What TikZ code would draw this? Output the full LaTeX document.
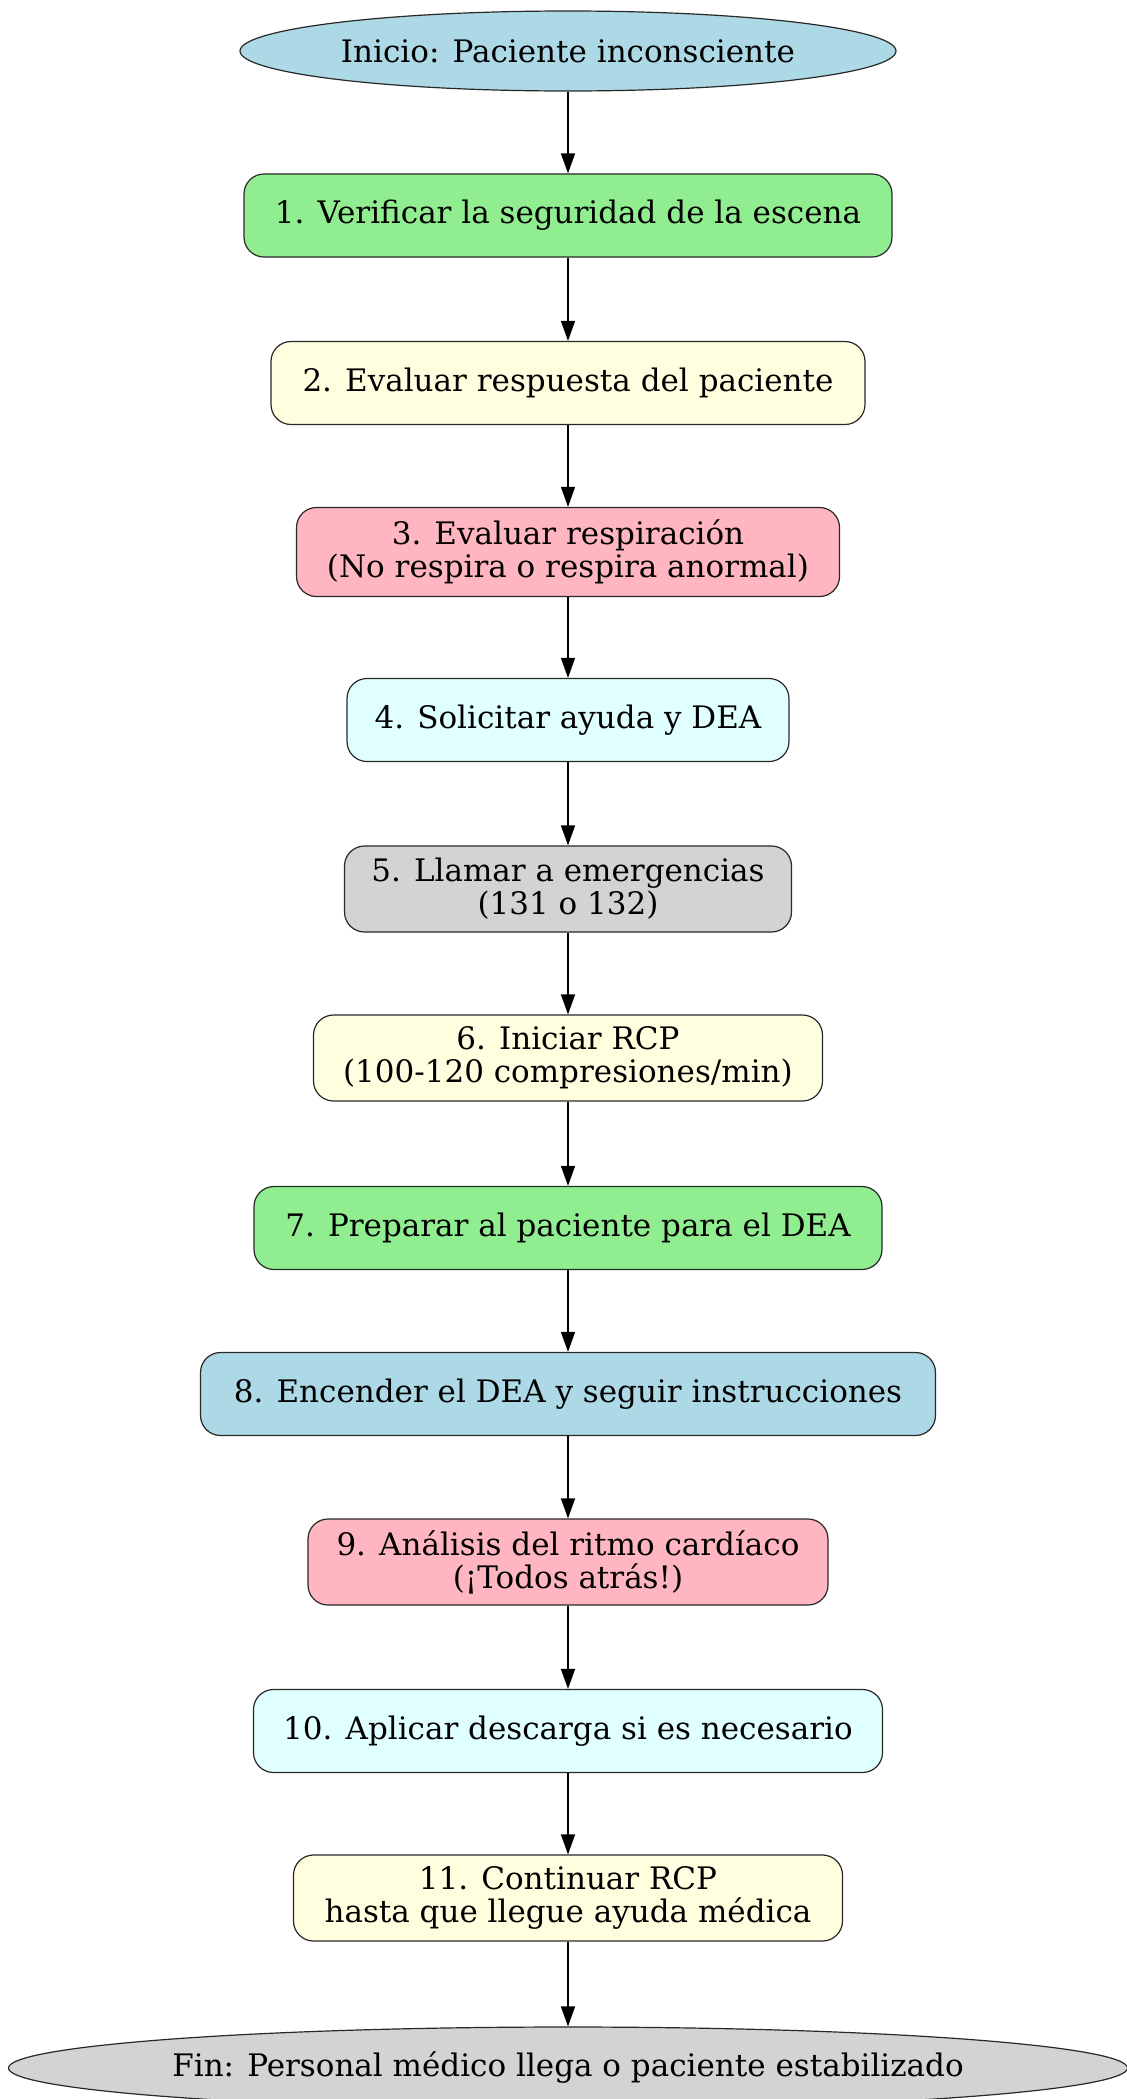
\documentclass[tikz,border=0pt]{standalone}
\usepackage{fontspec}
\setmainfont{DejaVu Serif}
\usetikzlibrary{shapes.geometric,arrows.meta}
\definecolor{lblue}{RGB}{173,216,230}
\definecolor{lgreen}{RGB}{144,238,144}
\definecolor{lyellow}{RGB}{255,255,224}
\definecolor{lpink}{RGB}{255,182,193}
\definecolor{lcyan}{RGB}{224,255,255}
\definecolor{lgray}{RGB}{211,211,211}
\definecolor{edge}{RGB}{40,40,40}
\tikzset{
  stepbox/.style={draw=edge, line width=0.6pt, rounded corners=10pt, align=center,
    minimum height=41.5pt, inner sep=2pt, font=\fontsize{15.5}{16.5}\selectfont},
  endnode/.style={ellipse, draw=edge, line width=0.6pt, inner sep=0pt,
    minimum height=40pt, font=\fontsize{15.5}{16.5}\selectfont},
  flow/.style={-{Triangle[length=10pt,width=7pt]}, line width=0.7pt, black}
}
\begin{document}
\begin{tikzpicture}[x=0.5pt,y=-0.5pt]
\useasboundingbox (0,0) rectangle (1126,2099);

\node[endnode, fill=lblue, minimum width=328pt] (start) at (568,51) {Inicio: Paciente inconsciente};
\node[stepbox, fill=lgreen, minimum width=324pt] (s1) at (568,215.5) {1. Verificar la seguridad de la escena};
\node[stepbox, fill=lyellow, minimum width=297pt] (s2) at (568,383) {2. Evaluar respuesta del paciente};
\node[stepbox, fill=lpink, minimum width=271.5pt, minimum height=44.5pt] (s3) at (568,552) {3. Evaluar respiración\\(No respira o respira anormal)};
\node[stepbox, fill=lcyan, minimum width=221pt] (s4) at (568,720) {4. Solicitar ayuda y DEA};
\node[stepbox, fill=lgray, minimum width=223.5pt, minimum height=43pt] (s5) at (568,889) {5. Llamar a emergencias\\(131 o 132)};
\node[stepbox, fill=lyellow, minimum width=254.5pt, minimum height=43pt] (s6) at (568,1058) {6. Iniciar RCP\\(100-120 compresiones/min)};
\node[stepbox, fill=lgreen, minimum width=314pt] (s7) at (568,1228) {7. Preparar al paciente para el DEA};
\node[stepbox, fill=lblue, minimum width=367.5pt] (s8) at (568,1394) {8. Encender el DEA y seguir instrucciones};
\node[stepbox, fill=lpink, minimum width=260pt, minimum height=43pt] (s9) at (568,1562) {9. Análisis del ritmo cardíaco\\(¡Todos atrás!)};
\node[stepbox, fill=lcyan, minimum width=314.5pt] (s10) at (568,1731) {10. Aplicar descarga si es necesario};
\node[stepbox, fill=lyellow, minimum width=274.5pt, minimum height=43pt] (s11) at (568,1898) {11. Continuar RCP\\hasta que llegue ayuda médica};
\node[endnode, fill=lgray, minimum width=558pt, minimum height=41pt] (fin) at (568,2068) {Fin: Personal médico llega o paciente estabilizado};

\draw[flow] (start) -- (s1);
\draw[flow] (s1) -- (s2);
\draw[flow] (s2) -- (s3);
\draw[flow] (s3) -- (s4);
\draw[flow] (s4) -- (s5);
\draw[flow] (s5) -- (s6);
\draw[flow] (s6) -- (s7);
\draw[flow] (s7) -- (s8);
\draw[flow] (s8) -- (s9);
\draw[flow] (s9) -- (s10);
\draw[flow] (s10) -- (s11);
\draw[flow] (s11) -- (fin);
\end{tikzpicture}
\end{document}
